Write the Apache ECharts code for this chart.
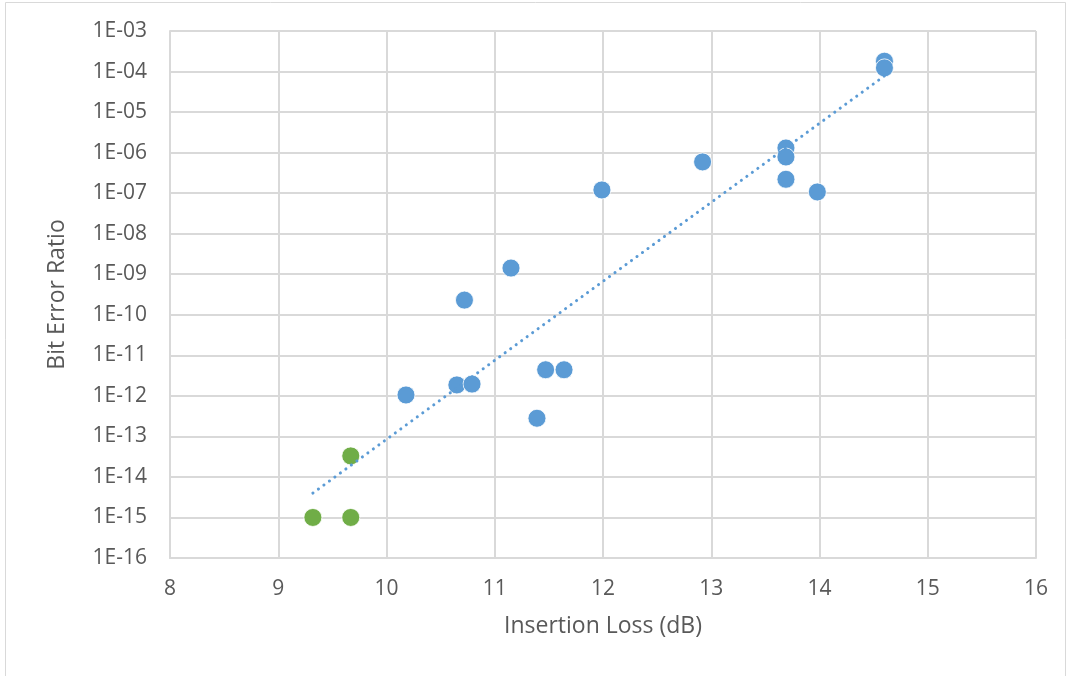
<!DOCTYPE html>
<html><head><meta charset="utf-8">
<script src="https://cdn.jsdelivr.net/npm/echarts@6/dist/echarts.min.js"></script>
<style>html,body{margin:0;padding:0;background:#fff}#c{width:1071px;height:676px}</style>
</head><body><div id="c"></div>
<script>
const xTitle = 'Insertion Loss (dB)';
const yTitle = 'Bit Error Ratio';
const blueX = [10.18, 10.65, 10.79, 10.72, 11.15, 11.39, 11.47, 11.64, 11.99, 12.92, 13.69, 13.69, 13.69, 13.98, 14.60, 14.60];
const blueY = [1.05e-12, 1.86e-12, 1.95e-12, 2.3e-10, 1.42e-9, 2.8e-13, 4.4e-12, 4.4e-12, 1.2e-7, 5.9e-7, 1.3e-6, 7.8e-7, 2.2e-7, 1.07e-7, 1.8e-4, 1.23e-4];
const greenX = [9.32, 9.67, 9.67];
const greenY = [1e-15, 1e-15, 3.3e-14];
const trendX = [9.32, 14.60];
const trendY = [4e-15, 7.8e-5];

const zip = (a, b) => a.map((v, i) => [v, b[i]]);
const font = '"Open Sans", Lato, sans-serif';
const gridColor = '#d9d9d9';
const chart = echarts.init(document.getElementById('c'));
chart.setOption({
  animation: false,
  backgroundColor: '#fff',
  graphic: [{type: 'rect', shape: {x: 5.5, y: 2.5, width: 1060, height: 680}, style: {fill: 'none', stroke: '#d9d9d9', lineWidth: 1}}],
  grid: {left: 170, top: 31, right: 35, bottom: 118},
  xAxis: {
    type: 'value', min: 8, max: 16, interval: 1,
    name: xTitle, nameLocation: 'middle', nameGap: 57,
    nameTextStyle: {fontFamily: font, fontSize: 23, color: '#595959'},
    axisLine: {show: true, lineStyle: {color: gridColor, width: 2}},
    axisTick: {show: false},
    axisLabel: {fontFamily: font, fontSize: 21, color: '#595959', margin: 21},
    splitLine: {show: true, lineStyle: {color: gridColor, width: 2}}
  },
  yAxis: {
    type: 'log', logBase: 10, min: 1e-16, max: 1e-3, interval: 1,
    name: yTitle, nameLocation: 'middle', nameGap: 101,
    nameTextStyle: {fontFamily: font, fontSize: 23, color: '#595959'},
    axisLine: {show: true, lineStyle: {color: gridColor, width: 2}},
    axisTick: {show: false},
    axisLabel: {fontFamily: font, fontSize: 21, color: '#595959', margin: 23,
      formatter: v => { const e = Math.round(Math.log10(v)); const a = Math.abs(e); return '1E' + (e < 0 ? '-' : '+') + (a < 10 ? '0' + a : a); }},
    splitLine: {show: true, lineStyle: {color: gridColor, width: 2}}
  },
  series: [
    {type: 'line', data: zip(trendX, trendY), symbol: 'none', z: 3,
     lineStyle: {color: '#5b9bd5', width: 3, type: [0.1, 6.7], cap: 'round'}},
    {type: 'scatter', data: zip(blueX, blueY), symbolSize: 18, z: 2, itemStyle: {color: '#5b9bd5', opacity: 1, borderColor: '#fff', borderWidth: 0.8}},
    {type: 'scatter', data: zip(greenX, greenY), symbolSize: 18, z: 2, itemStyle: {color: '#70ad47', opacity: 1, borderColor: '#fff', borderWidth: 0.8}}
  ]
});
</script></body></html>
